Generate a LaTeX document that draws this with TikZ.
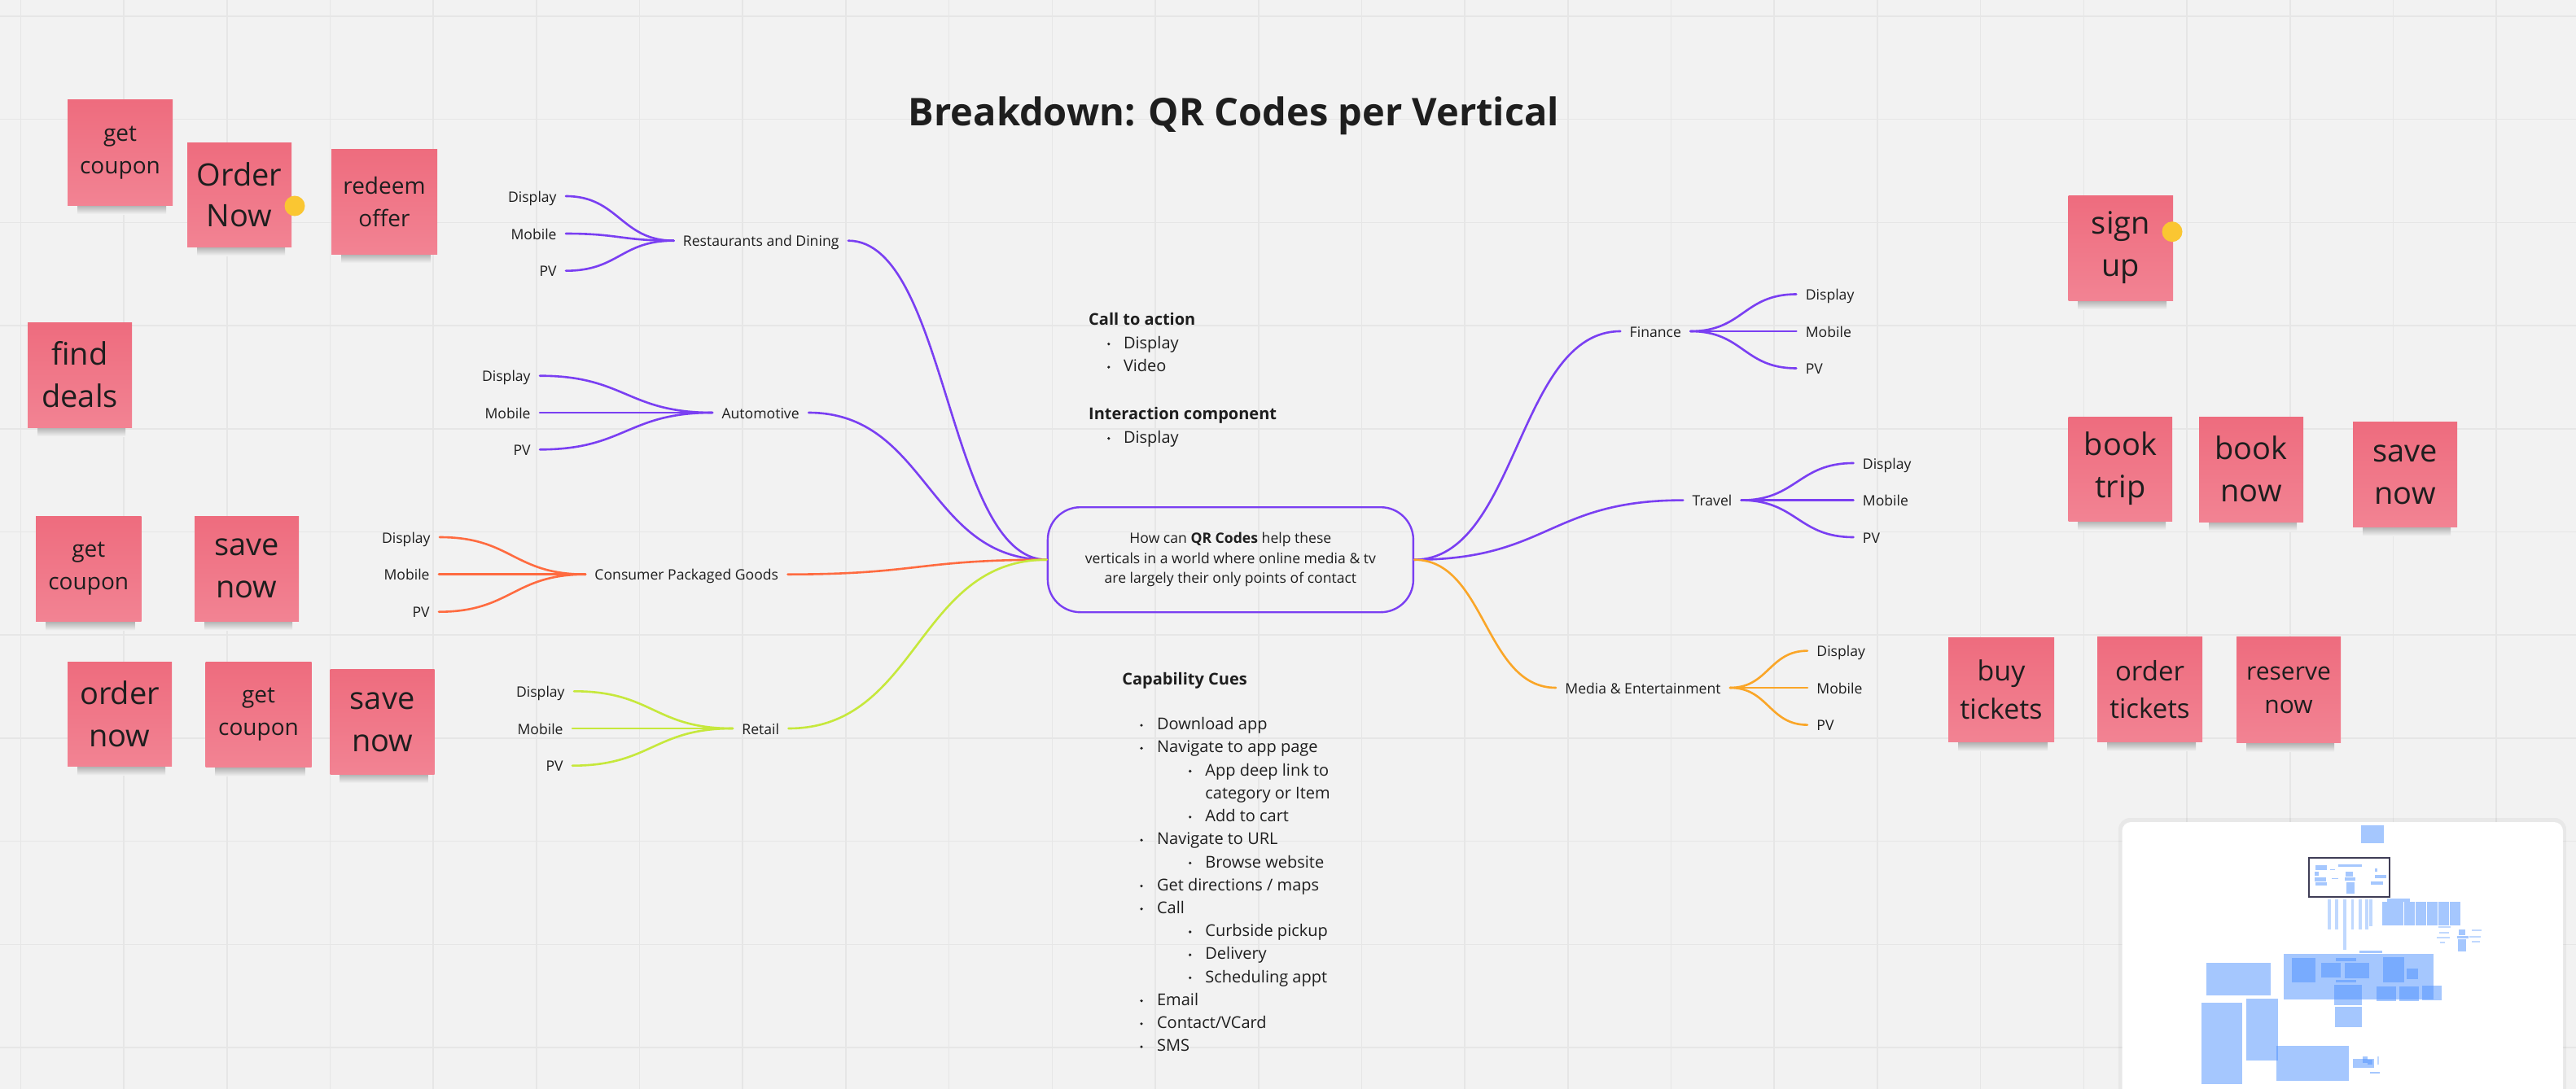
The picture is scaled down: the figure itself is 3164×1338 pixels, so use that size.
\documentclass[tikz,border=0pt]{standalone}
\usepackage{fontspec}
\setmainfont{Open Sans}
\definecolor{bgc}{HTML}{F2F2F2}
\definecolor{gridc}{HTML}{E6E6E6}
\definecolor{pur}{HTML}{7A3FF2}
\definecolor{cpgc}{HTML}{FF6B40}
\definecolor{retc}{HTML}{C6E83C}
\definecolor{medc}{HTML}{FAA628}
\definecolor{sttop}{HTML}{EE6C7E}
\definecolor{stbot}{HTML}{F28393}
\definecolor{dotc}{HTML}{FAC632}
\definecolor{textc}{HTML}{1E1E1E}
\definecolor{mmc}{HTML}{4D90FE}
\definecolor{mmframe}{HTML}{3F3D56}
\tikzset{
 lbl/.style={font=\fontsize{8.8}{10}\selectfont, text=textc, inner xsep=5.5pt, inner ysep=0pt, text height=9pt, text depth=2pt},
 conn/.style={line width=1.3pt, line cap=round},
 txt/.style={font=\fontsize{10}{12}\selectfont, text=textc, anchor=base west, inner sep=0pt},
 boldtxt/.style={txt, font=\bfseries\fontsize{10}{12}\selectfont},
 sticky/.style={top color=sttop, bottom color=stbot, text=textc, align=center, inner sep=0pt},
 mm/.style={fill=mmc, fill opacity=0.5},
 mmlight/.style={fill=mmc, fill opacity=0.35},
}
\newcommand\stickynote[8]{%
  \shade[top color=black!30!bgc, bottom color=bgc] (#2+12,#5-1) rectangle (#4-8,#5+11);
  \node[sticky, minimum width={(#4-#2)*0.5pt}, minimum height={(#5-#3)*0.5pt}, font=\fontsize{#6}{#7}\selectfont] (#1) at ({(#2+#4)/2},{(#3+#5)/2}) {#8};
}
\newcommand\bul[2]{\fill[textc] (#1,#2-5.6) circle[radius=0.9pt];}
\begin{document}
\begin{tikzpicture}[x=0.5pt,y=-0.5pt]
\useasboundingbox (0,0) rectangle (3164,1338);
\fill[bgc] (0,0) rectangle (3164,1338);
% grid
\foreach \i in {0,...,24} \draw[gridc, line width=0.8pt] ({25.3+126.7*\i},0) -- ({25.3+126.7*\i},1338);
\foreach \j in {0,...,10} \draw[gridc, line width=0.8pt] (0,{20+126.7*\j}) -- (3164,{20+126.7*\j});

% title
\node[font=\bfseries\fontsize{23.5}{28}\selectfont, text=textc, anchor=base, inner sep=0pt] (title) at (1515.5,155) {Breakdown: QR Codes per Vertical};

% sticky notes
\stickynote{s1}{83}{123}{212}{252}{14}{20}{get\\coupon}
\stickynote{s2}{230}{175}{358}{303}{19}{25}{Order\\Now}
\stickynote{s3}{407}{183}{537}{312}{14}{20}{redeem\\offer}
\stickynote{s4}{34}{396}{162}{525}{19}{26}{find\\deals}
\stickynote{s5}{44}{634}{173.5}{763.5}{14}{20}{get\\coupon}
\stickynote{s6}{239}{634}{367}{763}{19}{26}{save\\now}
\stickynote{s7}{83}{813.6}{211}{941.4}{19}{26}{order\\now}
\stickynote{s8}{252.5}{813.6}{382.6}{942.6}{14}{20}{get\\coupon}
\stickynote{s9}{405.6}{822.8}{533.7}{951}{19}{26}{save\\now}
\stickynote{s10}{2540.7}{240}{2669}{369}{19}{26}{sign\\up}
\stickynote{s11}{2540.7}{512}{2668}{640}{19}{26}{book\\trip}
\stickynote{s12}{2701}{512}{2829}{641}{19}{26}{book\\now}
\stickynote{s13}{2890}{518.7}{3018}{647.3}{19}{26}{save\\now}
\stickynote{s14}{2393}{783}{2523}{911.7}{17}{23.3}{buy\\tickets}
\stickynote{s15}{2576}{782.7}{2705}{911.7}{16.5}{23.3}{order\\tickets}
\stickynote{s16}{2747}{782.7}{2875}{912.7}{15}{20.7}{reserve\\now}
\fill[dotc] (362,253) circle[radius=6.25pt];
\fill[dotc] (2668,284.7) circle[radius=6.25pt];

% central node
\node[draw=pur, line width=1.2pt, rounded corners=20pt, minimum width=224.5pt, minimum height=64.5pt, align=center, font=\fontsize{8.8}{12.35}\selectfont, text=textc] (root) at (1511.4,687.7)
 {How can \textbf{QR Codes} help these\\verticals in a world where online media \& tv\\are largely their only points of contact};

% branch nodes
\node[lbl] (rest) at (934.7,295.7) {Restaurants and Dining};
\node[lbl] (auto) at (934.1,507) {Automotive};
\node[lbl] (cpgn) at (843.3,705.7) {Consumer Packaged Goods};
\node[lbl] (retl) at (934.2,895) {Retail};
\node[lbl] (fin) at (2033.3,407) {Finance};
\node[lbl] (trav) at (2103,614.6) {Travel};
\node[lbl] (medi) at (2018,845) {Media \& Entertainment};

% leaf nodes left
\node[lbl, anchor=east] (rd1) at (695,241) {Display};
\node[lbl, anchor=east] (rd2) at (695,287) {Mobile};
\node[lbl, anchor=east] (rd3) at (695,332.7) {PV};
\node[lbl, anchor=east] (au1) at (663,461.7) {Display};
\node[lbl, anchor=east] (au2) at (663,507) {Mobile};
\node[lbl, anchor=east] (au3) at (663,552.3) {PV};
\node[lbl, anchor=east] (cp1) at (540,660) {Display};
\node[lbl, anchor=east] (cp2) at (539,705.7) {Mobile};
\node[lbl, anchor=east] (cp3) at (539,751.7) {PV};
\node[lbl, anchor=east] (re1) at (705,849.3) {Display};
\node[lbl, anchor=east] (re2) at (703,895) {Mobile};
\node[lbl, anchor=east] (re3) at (703,940.7) {PV};
% leaf nodes right
\node[lbl, anchor=west] (fi1) at (2206.4,361.5) {Display};
\node[lbl, anchor=west] (fi2) at (2206.4,407) {Mobile};
\node[lbl, anchor=west] (fi3) at (2206.4,452.5) {PV};
\node[lbl, anchor=west] (tr1) at (2276.5,569) {Display};
\node[lbl, anchor=west] (tr2) at (2276.5,614.6) {Mobile};
\node[lbl, anchor=west] (tr3) at (2276.5,660) {PV};
\node[lbl, anchor=west] (me1) at (2220,799.6) {Display};
\node[lbl, anchor=west] (me2) at (2220,845) {Mobile};
\node[lbl, anchor=west] (me3) at (2220,890.6) {PV};

% connectors to root
\draw[conn, pur] (rest.east) .. controls +(122,0) and +(-122,0) .. (root.west);
\draw[conn, pur] (auto.east) .. controls +(147,0) and +(-147,0) .. (root.west);
\draw[conn, cpgc] (cpgn.east) .. controls +(160,0) and +(-160,0) .. (root.west);
\draw[conn, retc] (retl.east) .. controls +(160,0) and +(-160,0) .. (root.west);
\draw[conn, pur] (root.east) .. controls +(127,0) and +(-127,0) .. (fin.west);
\draw[conn, pur] (root.east) .. controls +(165,0) and +(-165,0) .. (trav.west);
\draw[conn, medc] (root.east) .. controls +(88,0) and +(-88,0) .. (medi.west);

% leaf connectors
\foreach \n in {rd1,rd2,rd3} \draw[conn, pur] (\n.east) .. controls +(65,0) and +(-65,0) .. (rest.west);
\foreach \n in {au1,au2,au3} \draw[conn, pur] (\n.east) .. controls +(105,0) and +(-105,0) .. (auto.west);
\foreach \n in {cp1,cp2,cp3} \draw[conn, cpgc] (\n.east) .. controls +(89,0) and +(-89,0) .. (cpgn.west);
\foreach \n in {re1,re2,re3} \draw[conn, retc] (\n.east) .. controls +(97,0) and +(-97,0) .. (retl.west);
\foreach \n in {fi1,fi2,fi3} \draw[conn, pur] (fin.east) .. controls +(65,0) and +(-65,0) .. (\n.west);
\foreach \n in {tr1,tr2,tr3} \draw[conn, pur] (trav.east) .. controls +(68,0) and +(-68,0) .. (\n.west);
\foreach \n in {me1,me2,me3} \draw[conn, medc] (medi.east) .. controls +(47,0) and +(-47,0) .. (\n.west);

% call to action block
\node[boldtxt] (cta) at (1336.8,399.3) {Call to action};
\bul{1361.8}{428.3}\node[txt] (cta1) at (1379.6,428.3) {Display};
\bul{1361.8}{456.7}\node[txt] (cta2) at (1379.6,456.7) {Video};
\node[boldtxt] (ic) at (1336.8,515) {Interaction component};
\bul{1361.8}{544.3}\node[txt] (ic1) at (1379.6,544.3) {Display};

% capability cues
\node[boldtxt] (cc) at (1378,841.7) {Capability Cues};
\bul{1402}{896.7}\node[txt] (cc1) at (1420.7,896.7) {Download app};
\bul{1402}{924.9}\node[txt] (cc2) at (1420.7,924.9) {Navigate to app page};
\bul{1461.7}{953.1}\node[txt] (cc3) at (1480,953.1) {App deep link to};
\node[txt] (cc4) at (1480,981.3) {category or Item};
\bul{1461.7}{1009.5}\node[txt] (cc5) at (1480,1009.5) {Add to cart};
\bul{1402}{1037.8}\node[txt] (cc6) at (1420.7,1037.8) {Navigate to URL};
\bul{1461.7}{1066}\node[txt] (cc7) at (1480,1066) {Browse website};
\bul{1402}{1094.2}\node[txt] (cc8) at (1420.7,1094.2) {Get directions / maps};
\bul{1402}{1122.4}\node[txt] (cc9) at (1420.7,1122.4) {Call};
\bul{1461.7}{1150.6}\node[txt] (cc10) at (1480,1150.6) {Curbside pickup};
\bul{1461.7}{1178.8}\node[txt] (cc11) at (1480,1178.8) {Delivery};
\bul{1461.7}{1207}\node[txt] (cc12) at (1480,1207) {Scheduling appt};
\bul{1402}{1235.3}\node[txt] (cc13) at (1420.7,1235.3) {Email};
\bul{1402}{1263.5}\node[txt] (cc14) at (1420.7,1263.5) {Contact/VCard};
\bul{1402}{1291.7}\node[txt] (cc15) at (1420.7,1291.7) {SMS};

% minimap panel
\fill[black, opacity=0.04, rounded corners=7pt] (2602,1005) rectangle (3152,1370);
\fill[white, rounded corners=5.5pt] (2606.5,1010) rectangle (3148,1370);
\foreach \a/\b/\c/\d in {2900.4/1014/2928.4/1036, 2869.8/1099/2897.8/1101.7, 2931.7/1104.3/2960.4/1107.7,
  2925.5/1108.3/2938.8/1136.7, 2939.2/1108.3/2952.2/1136.7, 2952.9/1108.3/2965.8/1136.7, 2967/1108.3/2979.5/1136.7,
  2981/1108.3/2994/1136.7, 2995/1108.3/3007.6/1136.7, 3009/1108.3/3021.6/1136.7,
  3019.5/1142/3028/1149, 3018.4/1150/3031.7/1153.3, 3019/1154.3/3029/1169.3, 2897.5/1167.7/2926/1170.7,
  2805/1172/2989/1228, 2814.7/1177/2844/1207.3, 2851/1183/2875/1201, 2879.5/1183/2910/1202, 2926.6/1176/2953/1207,
  2868.7/1177/2894/1181, 2868.7/1204/2894/1207.3, 2956/1190/2970/1203,
  2867/1210/2901/1235, 2918.7/1212/2943/1230, 2947/1212/2971/1230, 2975/1211/2998.6/1229,
  2868/1237/2901.4/1262, 2710/1183/2789/1222.7, 2704/1232/2754/1332, 2759/1227/2798/1303,
  2796/1285/2884.5/1328, 2890/1301/2916/1312, 2902/1298/2908/1306, 2908/1302/2914/1308, 2911/1316.7/2922.6/1319}
  \fill[mm] (\a,\b) rectangle (\c,\d);
\foreach \a/\b/\c/\d in {2859/1105/2863.3/1141.7, 2868/1105/2872.3/1141.7, 2877.7/1105/2882/1166.7, 2887.8/1105/2891.4/1141.7,
  2897/1105/2901/1141.7, 2905/1105/2908.6/1141.7, 2910/1105/2914/1138, 2920/1297.7/2921.5/1308,
  2995/1138/3010/1140, 2996/1145/3008/1147, 2993/1151/3009/1153, 2997/1157/3003/1159, 3036/1142/3048/1144, 3033/1150/3047/1152, 3036/1156/3046/1158}
  \fill[mmlight] (\a,\b) rectangle (\c,\d);
\draw[mmframe, line width=1pt, fill=white] (2836,1054.3) rectangle (2935.3,1102.3);
\foreach \a/\b/\c/\d in {2843.5/1063/2858/1069, 2843/1071/2848/1075.7, 2843/1078/2857/1082.7, 2844/1083.7/2857.5/1087.7,
  2872/1062/2900.7/1065, 2880.6/1070.7/2889.6/1077.3, 2880/1078/2893/1081.7, 2882/1084/2892/1098,
  2916.5/1066.7/2920/1070.7, 2916.5/1075/2931/1079, 2911.5/1082.7/2927.3/1086.7, 2862/1068/2868/1069, 2864/1079/2872/1080}
  \fill[mm] (\a,\b) rectangle (\c,\d);
\end{tikzpicture}
\end{document}
